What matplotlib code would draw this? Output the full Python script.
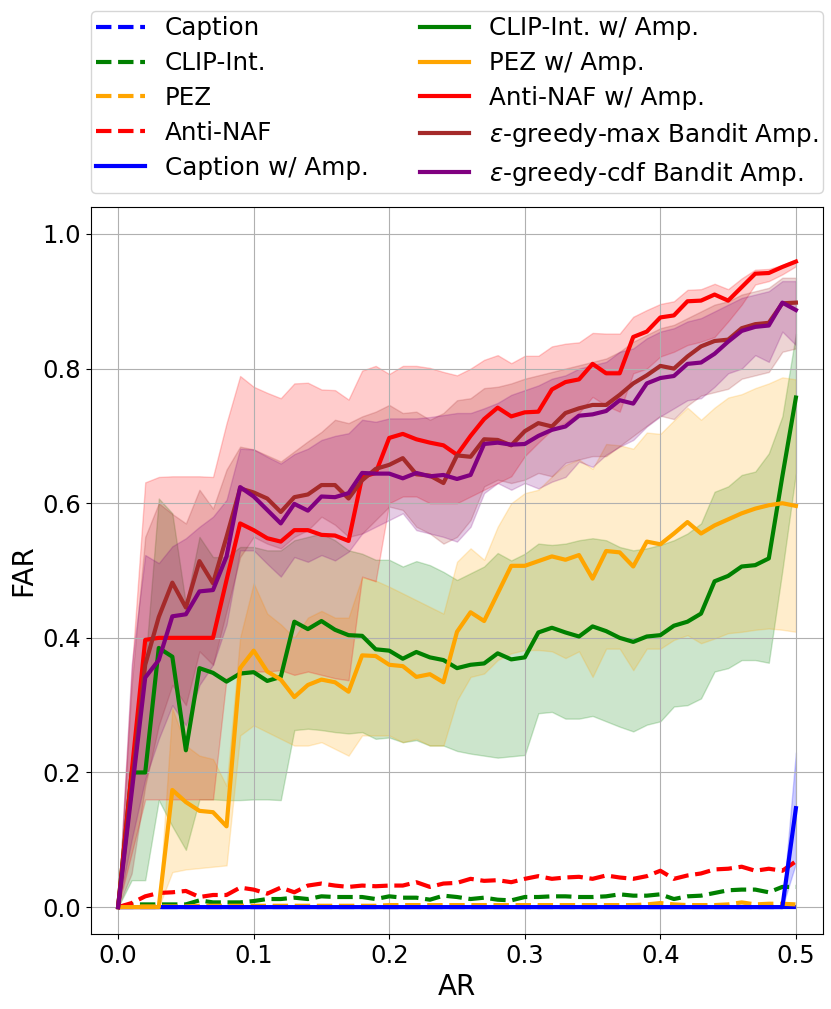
import numpy as np
import matplotlib
matplotlib.use("Agg")
import matplotlib.pyplot as plt

# AR grid
ar = np.linspace(0, 0.5, 51)

# baselines (no amplification)
caption = [0.0] * 51
clip_int = [0.0, 0.004, 0.004, 0.004, 0.004, 0.004, 0.010, 0.007, 0.007, 0.007,
            0.009, 0.012, 0.012, 0.014, 0.012, 0.016, 0.015, 0.015, 0.015, 0.012,
            0.016, 0.014, 0.014, 0.011, 0.017, 0.015, 0.012, 0.014, 0.011, 0.010,
            0.015, 0.015, 0.016, 0.016, 0.015, 0.015, 0.016, 0.019, 0.017, 0.017,
            0.019, 0.012, 0.016, 0.017, 0.021, 0.025, 0.026, 0.026, 0.022, 0.030,
            0.030]
pez = [0.0, 0.001, 0.001, 0.001, 0.001, 0.001, 0.002, 0.002, 0.002, 0.002,
       0.002, 0.002, 0.002, 0.002, 0.002, 0.002, 0.002, 0.002, 0.002, 0.002,
       0.003, 0.003, 0.003, 0.003, 0.003, 0.003, 0.003, 0.003, 0.003, 0.003,
       0.003, 0.003, 0.003, 0.003, 0.003, 0.003, 0.003, 0.003, 0.003, 0.004,
       0.006, 0.004, 0.003, 0.003, 0.003, 0.004, 0.007, 0.004, 0.005, 0.005,
       0.004]
anti_naf = [0.0, 0.006, 0.016, 0.021, 0.022, 0.024, 0.015, 0.018, 0.018, 0.029,
            0.026, 0.020, 0.029, 0.022, 0.032, 0.035, 0.032, 0.030, 0.032, 0.031,
            0.032, 0.032, 0.037, 0.030, 0.035, 0.036, 0.042, 0.039, 0.040, 0.037,
            0.042, 0.046, 0.042, 0.044, 0.045, 0.042, 0.047, 0.044, 0.042, 0.046,
            0.054, 0.042, 0.047, 0.050, 0.056, 0.057, 0.060, 0.054, 0.057, 0.054,
            0.068]

# with amplification: mean, lower, upper
caption_amp = [0.0] * 50 + [0.147]
caption_amp_lo = [0.0] * 50 + [0.065]
caption_amp_hi = [0.0] * 50 + [0.23]

clip_amp = [0.0, 0.2, 0.2, 0.385, 0.372, 0.233, 0.355, 0.348, 0.335, 0.347,
            0.349, 0.336, 0.342, 0.424, 0.413, 0.425, 0.412, 0.404, 0.403, 0.383,
            0.381, 0.369, 0.379, 0.371, 0.367, 0.355, 0.360, 0.362, 0.377, 0.368,
            0.371, 0.408, 0.415, 0.408, 0.402, 0.417, 0.410, 0.400, 0.394, 0.402,
            0.404, 0.418, 0.424, 0.436, 0.484, 0.492, 0.506, 0.508, 0.518, 0.64,
            0.757]
clip_amp_lo = [0.0, 0.04, 0.04, 0.159, 0.12, 0.085, 0.16, 0.16, 0.159, 0.159,
               0.16, 0.16, 0.159, 0.263, 0.265, 0.263, 0.26, 0.258, 0.26, 0.25,
               0.252, 0.245, 0.248, 0.24, 0.24, 0.232, 0.228, 0.225, 0.222, 0.224,
               0.226, 0.288, 0.290, 0.280, 0.280, 0.284, 0.276, 0.268, 0.261, 0.271,
               0.276, 0.298, 0.300, 0.310, 0.350, 0.355, 0.367, 0.367, 0.363, 0.50,
               0.645]
clip_amp_hi = [0.0, 0.22, 0.36, 0.607, 0.585, 0.45, 0.55, 0.52, 0.52, 0.535,
               0.535, 0.53, 0.53, 0.545, 0.55, 0.555, 0.545, 0.53, 0.525, 0.516,
               0.516, 0.506, 0.514, 0.508, 0.498, 0.486, 0.496, 0.506, 0.526, 0.515,
               0.525, 0.540, 0.538, 0.540, 0.545, 0.548, 0.545, 0.535, 0.530, 0.533,
               0.538, 0.545, 0.555, 0.570, 0.617, 0.625, 0.642, 0.647, 0.674, 0.729,
               0.852]

pez_amp = [0.0, 0.0, 0.0, 0.0, 0.174, 0.156, 0.143, 0.141, 0.120, 0.355,
           0.381, 0.350, 0.338, 0.312, 0.330, 0.338, 0.334, 0.320, 0.374, 0.373,
           0.360, 0.358, 0.342, 0.346, 0.334, 0.409, 0.438, 0.425, 0.466, 0.507,
           0.507, 0.514, 0.521, 0.516, 0.523, 0.488, 0.529, 0.527, 0.506, 0.543,
           0.539, 0.555, 0.572, 0.555, 0.567, 0.576, 0.585, 0.592, 0.597, 0.600,
           0.596]
pez_amp_lo = [0.0, 0.0, 0.0, 0.0, 0.052, 0.056, 0.058, 0.060, 0.062, 0.255,
              0.27, 0.26, 0.25, 0.24, 0.24, 0.245, 0.235, 0.225, 0.255, 0.255,
              0.255, 0.245, 0.25, 0.24, 0.24, 0.307, 0.342, 0.347, 0.367, 0.377,
              0.382, 0.382, 0.380, 0.370, 0.380, 0.342, 0.384, 0.384, 0.352, 0.384,
              0.384, 0.397, 0.404, 0.392, 0.399, 0.407, 0.409, 0.412, 0.414, 0.412,
              0.409]
pez_amp_hi = [0.0, 0.0, 0.0, 0.0, 0.295, 0.24, 0.225, 0.22, 0.18, 0.40,
              0.481, 0.436, 0.42, 0.40, 0.43, 0.44, 0.43, 0.43, 0.49, 0.485,
              0.476, 0.466, 0.456, 0.446, 0.436, 0.513, 0.533, 0.516, 0.565, 0.600,
              0.615, 0.62, 0.64, 0.657, 0.665, 0.651, 0.688, 0.686, 0.681, 0.705,
              0.703, 0.723, 0.742, 0.724, 0.742, 0.757, 0.762, 0.771, 0.778, 0.787,
              0.784]

anaf_amp = [0.0, 0.20, 0.397, 0.40, 0.40, 0.40, 0.40, 0.40, 0.486, 0.570,
            0.560, 0.548, 0.543, 0.560, 0.560, 0.553, 0.552, 0.544, 0.639, 0.645,
            0.697, 0.703, 0.695, 0.690, 0.686, 0.672, 0.700, 0.725, 0.742, 0.729,
            0.735, 0.736, 0.769, 0.780, 0.784, 0.807, 0.793, 0.793, 0.847, 0.855,
            0.876, 0.879, 0.900, 0.901, 0.910, 0.901, 0.921, 0.941, 0.942, 0.951,
            0.959]
anaf_amp_lo = [0.0, 0.08, 0.16, 0.16, 0.16, 0.16, 0.16, 0.16, 0.34, 0.345,
               0.35, 0.35, 0.352, 0.345, 0.35, 0.345, 0.34, 0.337, 0.491, 0.484,
               0.60, 0.61, 0.61, 0.60, 0.60, 0.60, 0.61, 0.62, 0.63, 0.64,
               0.67, 0.69, 0.709, 0.72, 0.734, 0.758, 0.745, 0.736, 0.793, 0.80,
               0.818, 0.825, 0.835, 0.84, 0.847, 0.87, 0.895, 0.925, 0.93, 0.94,
               0.952]
anaf_amp_hi = [0.0, 0.35, 0.631, 0.639, 0.64, 0.64, 0.64, 0.639, 0.719, 0.789,
               0.773, 0.764, 0.756, 0.778, 0.779, 0.769, 0.768, 0.754, 0.797, 0.804,
               0.792, 0.804, 0.804, 0.801, 0.795, 0.790, 0.800, 0.813, 0.820, 0.808,
               0.819, 0.819, 0.833, 0.837, 0.839, 0.853, 0.852, 0.852, 0.877, 0.887,
               0.896, 0.900, 0.917, 0.918, 0.926, 0.918, 0.934, 0.947, 0.948, 0.954,
               0.962]

# bandit amplification
eg_max = [0.0, 0.18, 0.36, 0.431, 0.482, 0.445, 0.514, 0.481, 0.550, 0.622,
          0.616, 0.607, 0.587, 0.609, 0.613, 0.627, 0.627, 0.607, 0.634, 0.651,
          0.657, 0.667, 0.643, 0.641, 0.630, 0.671, 0.669, 0.695, 0.694, 0.686,
          0.707, 0.719, 0.714, 0.734, 0.741, 0.746, 0.746, 0.761, 0.778, 0.790,
          0.804, 0.800, 0.818, 0.833, 0.841, 0.843, 0.860, 0.866, 0.868, 0.897,
          0.898]
eg_max_lo = [0.0, 0.05, 0.18, 0.27, 0.33, 0.30, 0.38, 0.36, 0.44, 0.52,
             0.55, 0.54, 0.533, 0.55, 0.56, 0.58, 0.568, 0.55, 0.555, 0.575,
             0.595, 0.59, 0.565, 0.555, 0.54, 0.55, 0.575, 0.625, 0.635, 0.63,
             0.635, 0.645, 0.64, 0.66, 0.665, 0.67, 0.67, 0.685, 0.70, 0.715,
             0.73, 0.725, 0.745, 0.76, 0.765, 0.77, 0.785, 0.79, 0.795, 0.825,
             0.83]
eg_max_hi = [0.0, 0.33, 0.55, 0.60, 0.584, 0.57, 0.62, 0.592, 0.65, 0.684,
             0.68, 0.671, 0.662, 0.677, 0.692, 0.706, 0.724, 0.719, 0.729, 0.736,
             0.746, 0.734, 0.736, 0.724, 0.734, 0.753, 0.756, 0.771, 0.773, 0.778,
             0.785, 0.79, 0.795, 0.80, 0.805, 0.81, 0.815, 0.825, 0.84, 0.85,
             0.86, 0.865, 0.875, 0.885, 0.895, 0.90, 0.91, 0.915, 0.92, 0.935,
             0.935]

eg_cdf = [0.0, 0.17, 0.341, 0.367, 0.432, 0.435, 0.469, 0.471, 0.521, 0.624,
          0.610, 0.590, 0.570, 0.599, 0.589, 0.610, 0.609, 0.615, 0.645, 0.644,
          0.644, 0.637, 0.645, 0.640, 0.642, 0.636, 0.642, 0.688, 0.690, 0.687,
          0.688, 0.700, 0.709, 0.714, 0.730, 0.732, 0.737, 0.753, 0.748, 0.778,
          0.786, 0.789, 0.807, 0.809, 0.822, 0.840, 0.856, 0.862, 0.864, 0.898,
          0.887]
eg_cdf_lo = [0.0, 0.10, 0.19, 0.25, 0.30, 0.27, 0.33, 0.36, 0.42, 0.53,
             0.53, 0.51, 0.491, 0.52, 0.513, 0.523, 0.515, 0.528, 0.555, 0.565,
             0.575, 0.585, 0.56, 0.555, 0.55, 0.543, 0.565, 0.615, 0.63, 0.62,
             0.63, 0.622, 0.632, 0.639, 0.662, 0.654, 0.672, 0.684, 0.694, 0.714,
             0.729, 0.741, 0.753, 0.756, 0.773, 0.793, 0.80, 0.82, 0.81, 0.855,
             0.835]
eg_cdf_hi = [0.0, 0.36, 0.523, 0.511, 0.536, 0.548, 0.565, 0.58, 0.605, 0.681,
             0.68, 0.669, 0.659, 0.673, 0.681, 0.694, 0.70, 0.704, 0.724, 0.721,
             0.726, 0.726, 0.726, 0.728, 0.731, 0.734, 0.734, 0.741, 0.749, 0.761,
             0.768, 0.775, 0.785, 0.79, 0.80, 0.805, 0.81, 0.825, 0.83, 0.845,
             0.855, 0.86, 0.87, 0.875, 0.885, 0.895, 0.905, 0.91, 0.915, 0.93,
             0.93]

fig = plt.figure(figsize=(8.31, 10.09), dpi=100)
ax = fig.add_axes([0.1095, 0.0743, 0.8809, 0.7205])

lw = 3
ax.plot(ar, caption, "--", color="blue", lw=lw, label="Caption")
ax.plot(ar, clip_int, "--", color="green", lw=lw, label="CLIP-Int.")
ax.plot(ar, pez, "--", color="orange", lw=lw, label="PEZ")
ax.plot(ar, anti_naf, "--", color="red", lw=lw, label="Anti-NAF")

series = [
    (caption_amp, caption_amp_lo, caption_amp_hi, "blue", "Caption w/ Amp."),
    (clip_amp, clip_amp_lo, clip_amp_hi, "green", "CLIP-Int. w/ Amp."),
    (pez_amp, pez_amp_lo, pez_amp_hi, "orange", "PEZ w/ Amp."),
    (anaf_amp, anaf_amp_lo, anaf_amp_hi, "red", "Anti-NAF w/ Amp."),
    (eg_max, eg_max_lo, eg_max_hi, "brown", r"$\epsilon$-greedy-max Bandit Amp."),
    (eg_cdf, eg_cdf_lo, eg_cdf_hi, "purple", r"$\epsilon$-greedy-cdf Bandit Amp."),
]
for mean, lo, hi, c, name in series:
    ax.plot(ar, mean, "-", color=c, lw=lw, label=name)
    ax.fill_between(ar, lo, hi, color=c, alpha=0.2)

ax.set_xlim(-0.02, 0.52)
ax.set_ylim(-0.04, 1.04)
ax.set_xticks([0.0, 0.1, 0.2, 0.3, 0.4, 0.5])
ax.set_yticks([0.0, 0.2, 0.4, 0.6, 0.8, 1.0])
ax.tick_params(labelsize=17.5)
ax.set_xlabel("AR", fontsize=20)
ax.set_ylabel("FAR", fontsize=20)
ax.grid(True)

ax.legend(loc="lower left", bbox_to_anchor=(0, 1.02, 1, 0.2), mode="expand",
          ncol=2, fontsize=17.7, borderaxespad=0, borderpad=0.2,
          labelspacing=0.44, handletextpad=0.8)

fig.savefig("out.png", dpi=100)
